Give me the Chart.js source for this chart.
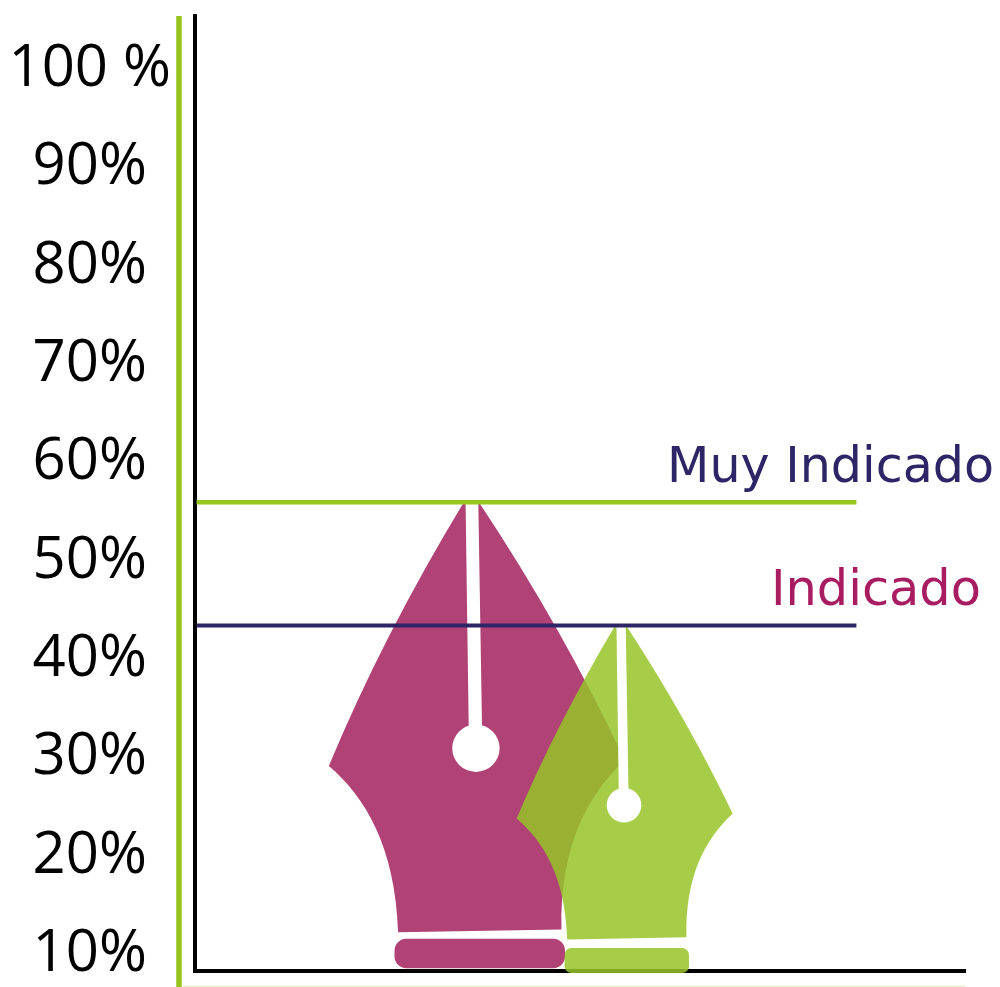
<!DOCTYPE html>
<html lang="es">
<head>
<meta charset="utf-8">
<title>Muy Indicado / Indicado</title>
<script src="https://cdn.jsdelivr.net/npm/chart.js@4"></script>
<style>html,body{margin:0;padding:0;background:#fff}canvas{display:block}</style>
</head>
<body>
<canvas id="c" width="1000" height="987"></canvas>
<script>
const tickValues = [10, 20, 30, 40, 50, 60, 70, 80, 90, 100];
const tickLabels = ['10%', '20%', '30%', '40%', '50%', '60%', '70%', '80%', '90%', '100 %'];
const nibNames = ['Muy Indicado', 'Indicado'];
const nibValues = [56, 43.45];
const nibBases = [8.6, 8.1];
const lineValues = [56, 43.45];

const PINK = '#b04276', NIB_GREEN = 'rgba(150,195,40,0.85)', GREEN = '#97c41f', NAVY = '#2d2566', LABEL_PINK = '#a81c62';
// Proportions of each pen-nib glyph, relative to its bar's rectangle
const NIB_FORMS = [
  { rc: .554, lc: .566, bottom: .92, band: .937, hole: .528, radius: .04 },
  { rc: .541, lc: .555, bottom: .90, band: .928, hole: .517, radius: .032 }
];

function nibPath(ctx, x, y, w, h, f) {
  const X = u => x + u * w, Y = v => y + v * h;
  ctx.beginPath();
  ctx.moveTo(X(.456), Y(0));
  ctx.lineTo(X(.507), Y(0));
  ctx.quadraticCurveTo(X(.79), Y(.27), X(1), Y(f.rc));
  ctx.bezierCurveTo(X(.87), Y(f.rc + .076), X(.78), Y(f.bottom - .177), X(.786), Y(f.bottom - .003));
  ctx.lineTo(X(.234), Y(f.bottom + .003));
  ctx.bezierCurveTo(X(.225), Y(f.bottom - .182), X(.12), Y(f.lc + .064), X(0), Y(f.lc));
  ctx.quadraticCurveTo(X(.18), Y(.29), X(.456), Y(0));
  ctx.closePath();
  ctx.fill();
  ctx.beginPath();
  ctx.roundRect(X(.222), Y(f.band), .576 * w, (1 - f.band) * h, f.radius * w);
  ctx.fill();
}
function nibCuts(ctx, x, y, w, h, f) {
  const X = u => x + u * w, Y = v => y + v * h;
  ctx.fillStyle = '#fff';
  ctx.beginPath();
  ctx.moveTo(X(.462), Y(0));
  ctx.lineTo(X(.505), Y(0));
  ctx.lineTo(X(.518), Y(f.hole - .03));
  ctx.lineTo(X(.473), Y(f.hole - .03));
  ctx.closePath();
  ctx.fill();
  ctx.beginPath();
  ctx.arc(X(.497), Y(f.hole), .08 * w, 0, Math.PI * 2);
  ctx.fill();
}

const nibPlugin = {
  id: 'nibs',
  beforeDatasetsDraw(chart) {
    const ctx = chart.ctx;
    ctx.save();
    [0, 1].forEach(i => {
      const bar = chart.getDatasetMeta(i).data[0];
      const w = bar.width, h = bar.base - bar.y, x = bar.x - w / 2;
      ctx.fillStyle = chart.data.datasets[i].nibColor;
      nibPath(ctx, x, bar.y, w, h, NIB_FORMS[i]);
      nibCuts(ctx, x, bar.y, w, h, NIB_FORMS[i]);
    });
    ctx.restore();
  },
  afterDatasetsDraw(chart) {
    const ctx = chart.ctx, sx = chart.scales.x, sy = chart.scales.y;
    ctx.save();
    ctx.textBaseline = 'alphabetic';
    ctx.textAlign = 'left';
    ctx.font = '50px "DejaVu Sans"';
    ctx.fillStyle = NAVY;
    ctx.fillText(nibNames[0], sx.getPixelForValue(61.3), sy.getPixelForValue(58), 327);
    ctx.fillStyle = LABEL_PINK;
    ctx.fillText(nibNames[1], sx.getPixelForValue(74.8), sy.getPixelForValue(45.5), 210);
    ctx.restore();
  }
};

new Chart(document.getElementById('c'), {
  data: {
    datasets: [
      { type: 'bar', label: nibNames[0], data: [{ x: 36.6, y: [nibBases[0], nibValues[0]] }], barThickness: 296, grouped: false,
        backgroundColor: 'transparent', nibColor: PINK, order: 5 },
      { type: 'bar', label: nibNames[1], data: [{ x: 55.8, y: [nibBases[1], nibValues[1]] }], barThickness: 216, grouped: false,
        backgroundColor: 'transparent', nibColor: NIB_GREEN, order: 4 },
      { type: 'line', label: 'Umbral ' + nibNames[0], data: [{ x: 0.2, y: lineValues[0] }, { x: 85.9, y: lineValues[0] }],
        borderColor: GREEN, borderWidth: 4.5, pointRadius: 0, order: 2 },
      { type: 'line', label: 'Umbral ' + nibNames[1], data: [{ x: 0.2, y: lineValues[1] }, { x: 85.9, y: lineValues[1] }],
        borderColor: NAVY, borderWidth: 4, pointRadius: 0, order: 1 },
      { type: 'line', label: 'Marco', data: [{ x: -2.08, y: 105.44 }, { x: -2.08, y: 6.69 }],
        borderColor: GREEN, borderWidth: 5.5, pointRadius: 0, clip: false, order: 3 },
      { type: 'line', label: 'Marco base', data: [{ x: -1.6, y: 6.75 }, { x: 100, y: 6.75 }],
        borderColor: '#e6f0c8', borderWidth: 1.5, pointRadius: 0, clip: false, order: 3 }
    ]
  },
  options: {
    responsive: false,
    animation: false,
    layout: { padding: { top: 16, right: 35, left: 0, bottom: 0 } },
    plugins: { legend: { display: false }, tooltip: { enabled: false } },
    scales: {
      x: {
        type: 'linear', min: 0, max: 100, offset: false,
        afterFit: s => { s.height = 16; s.paddingLeft = 0; s.paddingRight = 0; },
        grid: { display: false, drawTicks: false, offset: false },
        border: { color: '#000', width: 4 },
        ticks: { display: false }
      },
      y: {
        type: 'linear', min: 8.315, max: 105.44,
        afterFit: s => { s.width = 195; s.paddingTop = 0; s.paddingBottom = 0; },
        afterBuildTicks: s => { s.ticks = tickValues.map(v => ({ value: v })); },
        grid: { display: false, drawTicks: false },
        border: { color: '#000', width: 4 },
        ticks: {
          padding: 24, crossAlign: 'center', color: '#000',
          font: { family: '"Open Sans"', size: 58, weight: '400' },
          callback: v => tickLabels[tickValues.indexOf(v)]
        }
      }
    }
  },
  plugins: [nibPlugin]
});
</script>
</body>
</html>
